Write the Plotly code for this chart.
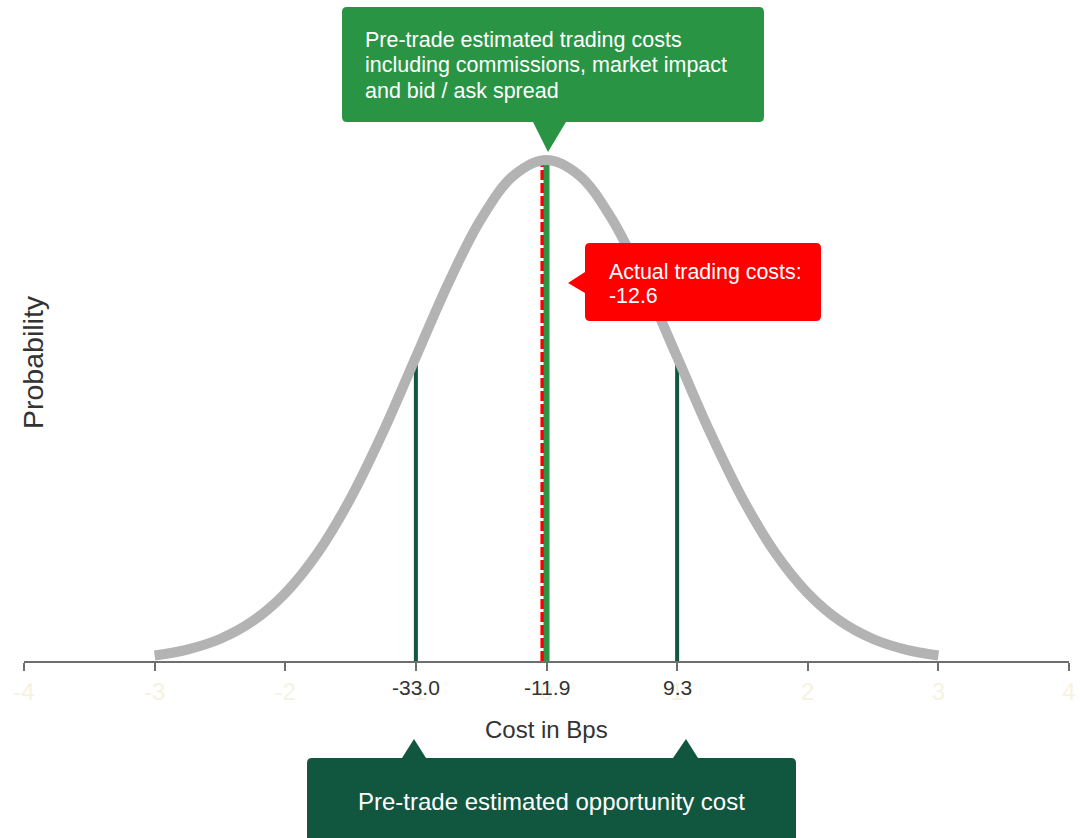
import plotly.graph_objects as go

# ---------------- data ----------------
# standardised cost axis (sigma units) and the probability
z_values = [-3.0, -2.75, -2.5, -2.25, -2.0, -1.75, -1.5, -1.25, -1.0, -0.75, -0.5, -0.25,
            0.0, 0.25, 0.5, 0.75, 1.0, 1.25, 1.5, 1.75, 2.0, 2.25, 2.5, 2.75, 3.0]
probability = [0.0044, 0.0091, 0.0175, 0.0317, 0.0540, 0.0863, 0.1295, 0.1826, 0.2420, 0.3011,
               0.3521, 0.3867, 0.3989, 0.3867, 0.3521, 0.3011, 0.2420, 0.1826, 0.1295, 0.0863,
               0.0540, 0.0317, 0.0175, 0.0091, 0.0044]

axis_ticks = [-4, -3, -2, -1, 0, 1, 2, 3, 4]
band_z = [-1, 0, 1]
band_costs = [-33.0, -11.9, 9.3]          # low estimate, pre-trade estimate, high estimate (bps)
band_prob = [0.2420, 0.3989, 0.2420]
actual_cost = -12.6
actual_prob = 0.3987

title_estimate = ["Pre-trade estimated trading costs",
                  "including commissions, market impact",
                  "and bid / ask spread"]
title_actual = ["Actual trading costs:", f"{actual_cost:.1f}"]
title_opportunity = "Pre-trade estimated opportunity cost"

# ---------------- style ----------------
GREEN = "#2a9445"
DARK_GREEN = "#115740"
RED = "#ff0000"
GREY = "#b3b3b3"
TEXT = "#333333"
FAINT = "#f6f2e1"
FONT = "Liberation Sans, Arial, sans-serif"

W, H = 1080, 838
ML, MR, MT, MB = 24, 11, 0, 177
PW, PH = W - ML - MR, H - MT - MB


def px(x):
    return (x - ML) / PW


def py(y):
    return (H - MB - y) / PH


sigma = (band_costs[2] - band_costs[0]) / 2
actual_z = (actual_cost - band_costs[1]) / sigma

fig = go.Figure()

# dark green +/- 1 sigma lines
for z, p in zip([band_z[0], band_z[2]], [band_prob[0], band_prob[2]]):
    fig.add_trace(go.Scatter(x=[z, z], y=[0, p], mode="lines",
                             line=dict(color=DARK_GREEN, width=4), hoverinfo="skip"))
# green estimate line
fig.add_trace(go.Scatter(x=[band_z[1], band_z[1]], y=[0, band_prob[1]], mode="lines",
                         line=dict(color=GREEN, width=6), hoverinfo="skip"))
# red dashed actual line
fig.add_trace(go.Scatter(x=[actual_z, actual_z], y=[0, actual_prob], mode="lines",
                         line=dict(color=RED, width=3.5, dash="10px,3px"), hoverinfo="skip"))
# distribution curve
fig.add_trace(go.Scatter(x=z_values, y=probability, mode="lines",
                         line=dict(color=GREY, width=10, shape="spline"), hoverinfo="skip"))


def callout(x0, y0, x1, y1, r, pointer):
    """rounded box with a triangular pointer; pixel coords -> paper path"""
    side, a, b, tx, ty = pointer
    d = f"M{px(x0 + r)},{py(y0)} "
    if side == "top":
        for (ba, bb, ttx) in a:
            d += f"L{px(ba)},{py(y0)} L{px(ttx)},{py(ty)} L{px(bb)},{py(y0)} "
    d += f"L{px(x1 - r)},{py(y0)} Q{px(x1)},{py(y0)} {px(x1)},{py(y0 + r)} "
    d += f"L{px(x1)},{py(y1 - r)} Q{px(x1)},{py(y1)} {px(x1 - r)},{py(y1)} "
    if side == "bottom":
        d += f"L{px(b)},{py(y1)} L{px(tx)},{py(ty)} L{px(a)},{py(y1)} "
    d += f"L{px(x0 + r)},{py(y1)} Q{px(x0)},{py(y1)} {px(x0)},{py(y1 - r)} "
    if side == "left":
        d += f"L{px(x0)},{py(b)} L{px(tx)},{py(ty)} L{px(x0)},{py(a)} "
    d += f"L{px(x0)},{py(y0 + r)} Q{px(x0)},{py(y0)} {px(x0 + r)},{py(y0)} Z"
    return d


shapes = [
    dict(type="path", xref="paper", yref="paper",
         path=callout(342, 7, 764, 122, 5, ("bottom", 533, 566, 548, 152)),
         fillcolor=GREEN, line=dict(width=0), layer="above"),
    dict(type="path", xref="paper", yref="paper",
         path=callout(585, 243, 821, 321, 5, ("left", 272, 293, 568, 283)),
         fillcolor=RED, line=dict(width=0), layer="above"),
    dict(type="path", xref="paper", yref="paper",
         path=callout(307, 758, 796, 860, 5, ("top", [(402, 426, 414), (673, 698, 686)], 0, 0, 739)),
         fillcolor=DARK_GREEN, line=dict(width=0), layer="above"),
]

annotations = []
for i, line in enumerate(title_estimate):
    annotations.append(dict(x=px(363), y=py(40 + 25.5 * i), xref="paper", yref="paper",
                            text=line, showarrow=False, xanchor="left", yanchor="middle",
                            font=dict(family=FONT, size=21.5, color="white")))
for i, line in enumerate(title_actual):
    annotations.append(dict(x=px(607), y=py(272 + 24 * i), xref="paper", yref="paper",
                            text=line, showarrow=False, xanchor="left", yanchor="middle",
                            font=dict(family=FONT, size=21.4, color="white")))
annotations.append(dict(x=px(551), y=py(801), xref="paper", yref="paper",
                        text=title_opportunity, showarrow=False, xanchor="center", yanchor="middle",
                        font=dict(family=FONT, size=24, color="white")))
for z, c in zip(band_z, band_costs):
    annotations.append(dict(x=z, y=py(687), xref="x", yref="paper", text=f"{c:.1f}",
                            showarrow=False, xanchor="center", yanchor="middle",
                            font=dict(family=FONT, size=21, color=TEXT)))
annotations.append(dict(x=px(546), y=py(730), xref="paper", yref="paper", text="Cost in Bps",
                        showarrow=False, xanchor="center", yanchor="middle",
                        font=dict(family=FONT, size=24, color=TEXT)))
annotations.append(dict(x=px(33), y=py(362), xref="paper", yref="paper", text="Probability",
                        showarrow=False, textangle=-90, xanchor="center", yanchor="middle",
                        font=dict(family=FONT, size=28.5, color=TEXT)))

fig.update_layout(
    width=W, height=H,
    margin=dict(l=ML, r=MR, t=MT, b=MB, autoexpand=False),
    paper_bgcolor="white", plot_bgcolor="white",
    showlegend=False,
    shapes=shapes, annotations=annotations,
    xaxis=dict(range=[-4, 4], tickvals=axis_ticks, ticktext=[str(t) for t in axis_ticks],
               showgrid=False, zeroline=False, showline=True, linecolor="#6e6e6e", linewidth=2,
               ticks="outside", ticklen=8, tickwidth=2, tickcolor="#6e6e6e",
               tickfont=dict(family=FONT, size=24, color=FAINT), fixedrange=True),
    yaxis=dict(range=[0, 0.5263], visible=False, fixedrange=True),
    font=dict(family=FONT),
)

fig.write_html("out.html", post_script="document.body.style.margin='0px';",
               config={"displayModeBar": False})
